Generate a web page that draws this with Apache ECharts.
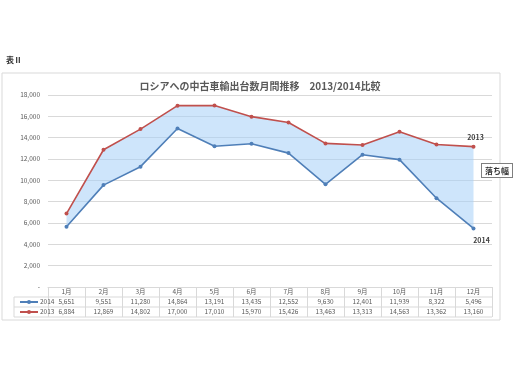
<!DOCTYPE html>
<html><head><meta charset="utf-8">
<script src="https://cdn.jsdelivr.net/npm/echarts@6/dist/echarts.min.js"></script>
<style>html,body{margin:0;padding:0;background:#fff}#c{width:520px;height:390px}</style>
</head><body><div id="c"></div>
<script>
const months = ['1月','2月','3月','4月','5月','6月','7月','8月','9月','10月','11月','12月'];
const v2014 = [5651, 9551, 11280, 14864, 13191, 13435, 12552, 9630, 12401, 11939, 8322, 5496];
const v2013 = [6884, 12869, 14802, 17000, 17010, 15970, 15426, 13463, 13313, 14563, 13362, 13160];
const yTicks = [0, 2000, 4000, 6000, 8000, 10000, 12000, 14000, 16000, 18000];

const fmt = n => n.toLocaleString('en-US');
const diff = v2013.map((v, i) => v - v2014[i]);
const last = months.length - 1;

const G = {left: 48, right: 28, top: 95, bottom: 103};
const baseY = 390 - G.bottom;
const gridCol = '#d9d9d9';
const font = '"Noto Sans CJK JP", "Noto Sans", sans-serif';

const chart = echarts.init(document.getElementById('c'), null, {renderer: 'canvas'});
const rowLines = [10, 20, 30].map(d => ({
  type: 'line', silent: true,
  shape: {x1: 14, y1: baseY + d, x2: 520 - G.right, y2: baseY + d},
  style: {stroke: gridCol, lineWidth: 1}
}));
chart.setOption({
  backgroundColor: '#fff',
  animation: false,
  textStyle: {fontFamily: font},
  title: {
    text: '{a|ロシアへの中古車輸出台数月間推移　}{b|2013/2014比較}',
    left: 'center', top: 76,
    textStyle: {rich: {
      a: {fontSize: 10, color: '#595959', fontFamily: font},
      b: {fontSize: 10, color: '#595959', fontWeight: 'bold', fontFamily: font}
    }}
  },
  legend: {
    orient: 'vertical', left: 14, top: baseY + 5, itemGap: 0,
    itemWidth: 18, itemHeight: 5,
    data: ['2014', '2013'],
    textStyle: {fontSize: 6.5, color: '#595959', lineHeight: 10, padding: [0, 0, 0, -3]}
  },
  grid: G,
  xAxis: {
    type: 'category', data: months, boundaryGap: true,
    axisLine: {show: true, lineStyle: {color: gridCol, width: 1}},
    axisTick: {show: true, length: 30, lineStyle: {color: gridCol}},
    axisLabel: {
      margin: 0, interval: 0, lineHeight: 10, fontSize: 6.5, color: '#595959',
      formatter: (val, i) => val + '\n' + fmt(v2014[i]) + '\n' + fmt(v2013[i])
    },
    splitLine: {show: false}
  },
  yAxis: {
    type: 'value', min: yTicks[0], max: yTicks[yTicks.length - 1], interval: 2000,
    axisLine: {show: false}, axisTick: {show: false},
    axisLabel: {fontSize: 6.5, color: '#595959', margin: 8,
      formatter: v => v === 0 ? '-' : fmt(v)},
    splitLine: {lineStyle: {color: gridCol, width: 1}}
  },
  series: [
    {name: 'base', type: 'line', stack: 'gap', data: v2014, symbol: 'none',
     lineStyle: {opacity: 0}, areaStyle: {opacity: 0}, silent: true, z: 1},
    {name: 'gap', type: 'line', stack: 'gap', data: diff, symbol: 'none',
     lineStyle: {opacity: 0}, areaStyle: {color: 'rgba(165,208,247,0.55)', opacity: 1}, silent: true, z: 1},
    {name: '2014', type: 'line', z: 3,
     data: v2014.map((v, i) => i === last ? {value: v, label: {show: true, position: 'bottom', offset: [8, 1], formatter: '2014'}} : v),
     symbol: 'circle', symbolSize: 4,
     itemStyle: {color: '#4f7fb8'}, lineStyle: {color: '#4f7fb8', width: 1.6},
     label: {show: false, fontSize: 7, color: '#404040', fontWeight: 'bold'}},
    {name: '2013', type: 'line', z: 3,
     data: v2013.map((v, i) => i === last ? {value: v, label: {show: true, position: 'top', offset: [2, 1], formatter: '2013'}} : v),
     symbol: 'circle', symbolSize: 4,
     itemStyle: {color: '#c0504d'}, lineStyle: {color: '#c0504d', width: 1.6},
     label: {show: false, fontSize: 7, color: '#404040', fontWeight: 'bold'}}
  ],
  graphic: [
    {type: 'rect', silent: true, z: -10, shape: {x: 2, y: 73, width: 498, height: 247},
     style: {fill: 'none', stroke: '#d9d9d9', lineWidth: 1}},
    {type: 'text', left: 6, top: 56, style: {text: '表Ⅱ', font: 'bold 8px ' + font, fill: '#333'}},
    {type: 'line', silent: true, shape: {x1: 14, y1: baseY + 10, x2: 14, y2: baseY + 30},
     style: {stroke: gridCol, lineWidth: 1}},
    ...rowLines,
    {type: 'text', left: 481, top: 163, z: 10,
     style: {text: '落ち幅', font: 'bold 8px ' + font, fill: '#333',
       backgroundColor: '#fff', borderColor: '#7f7f7f', borderWidth: 1, padding: [3, 3, 2, 3]}}
  ]
});
</script></body></html>
